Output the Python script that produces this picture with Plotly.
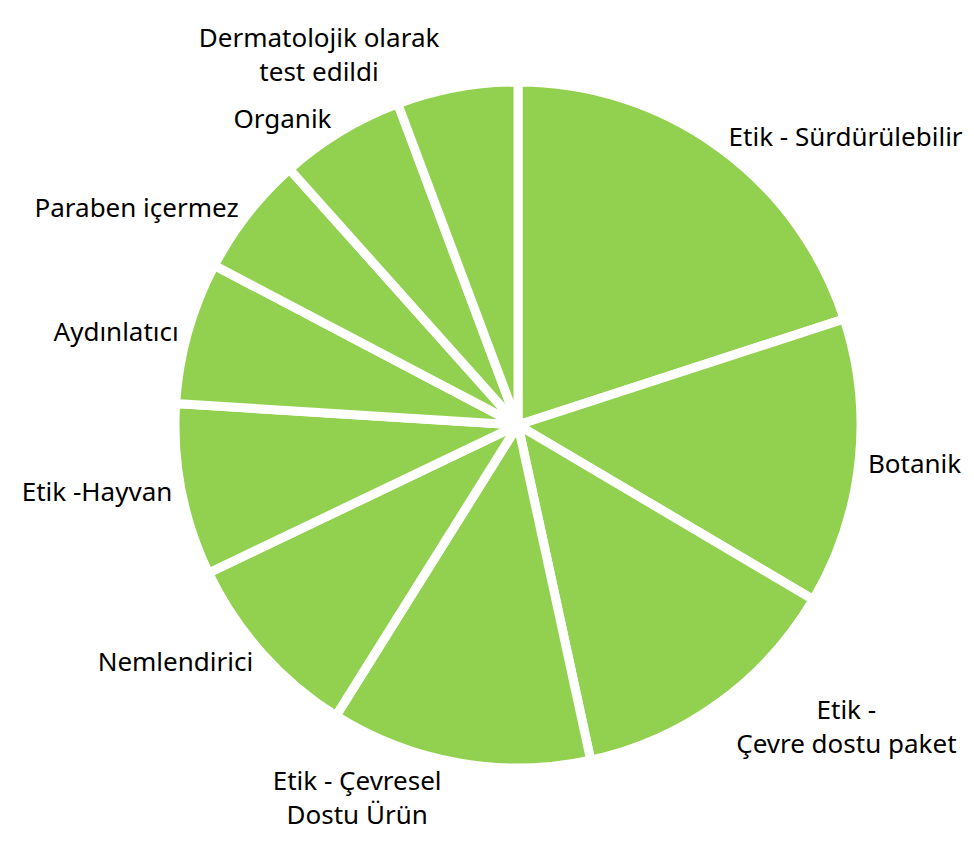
import plotly.graph_objects as go

categories = [
    "Etik - Sürdürülebilir",
    "Botanik",
    "Etik - Çevre dostu paket",
    "Etik - Çevresel Dostu Ürün",
    "Nemlendirici",
    "Etik -Hayvan",
    "Aydınlatıcı",
    "Paraben içermez",
    "Organik",
    "Dermatolojik olarak test edildi",
]
display_labels = [
    "Etik - Sürdürülebilir",
    "Botanik",
    "Etik -<br>Çevre dostu paket",
    "Etik - Çevresel<br>Dostu Ürün",
    "Nemlendirici",
    "Etik -Hayvan",
    "Aydınlatıcı",
    "Paraben içermez",
    "Organik",
    "Dermatolojik olarak<br>test edildi",
]
values = [20.0, 13.5, 13.1, 12.3, 9.0, 8.1, 6.7, 5.7, 5.9, 5.7]

W, H = 974, 858
cx, cy, r = 518, 425, 343

fig = go.Figure(
    go.Pie(
        labels=categories,
        values=values,
        text=display_labels,
        texttemplate="%{text}",
        textposition="outside",
        sort=False,
        direction="clockwise",
        rotation=0,
        marker=dict(colors=["#92D050"] * len(values), line=dict(color="white", width=9)),
        outsidetextfont=dict(family="Noto Sans", size=26, color="#000000"),
        automargin=False,
        showlegend=False,
        domain=dict(x=[(cx - r) / W, (cx + r) / W], y=[(H - cy - r) / H, (H - cy + r) / H]),
    )
)
fig.update_layout(
    width=W,
    height=H,
    margin=dict(l=0, r=0, t=0, b=0),
    paper_bgcolor="white",
    plot_bgcolor="white",
    font=dict(family="Noto Sans", size=26, color="#000000"),
)
fig.write_html(
    "out.html",
    config={"displayModeBar": False},
    post_script="document.body.style.margin='0';document.body.style.overflow='hidden';",
)
